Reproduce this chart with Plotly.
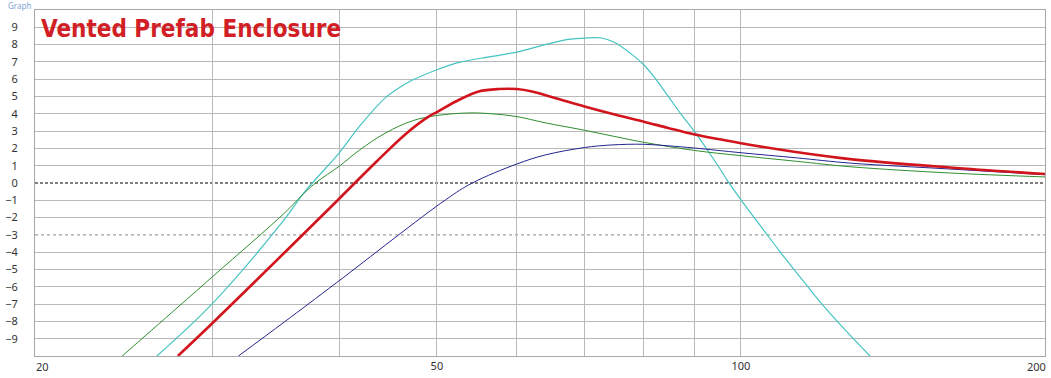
import numpy as np
import plotly.graph_objects as go

# ---- data (Hz, dB) ----
cyan_f = [26.4, 30.0, 35.3, 37.0, 40.0, 41.9, 44.5, 46.0, 47.3, 50.0, 52.6, 56.7, 60.0, 64.0, 67.5,
          70.0, 72.8, 75.0, 77.9, 80.0, 82.1, 84.7, 87.3, 90.0, 92.7, 95.5, 97.0, 100.0, 105.4,
          109.4, 116.3, 120.7, 126.4, 134.2]
cyan_db = [-10, -6.94, -2.12, -0.5, 1.73, 3.27, 4.95, 5.55, 5.95, 6.55, 6.97, 7.32, 7.57, 8.0, 8.3,
           8.38, 8.38, 8.12, 7.45, 6.88, 6.1, 5.02, 3.95, 2.95, 1.88, 0.75, 0.12, -0.97, -2.75,
           -4.0, -5.95, -7.1, -8.4, -10]

green_f = [24.4, 30.0, 35.3, 37.0, 38.0, 40.0, 41.9, 44.5, 47.3, 50.0, 53.8, 56.7, 60.0, 64.0,
           70.0, 80.0, 90.0, 100.0, 113.7, 128.3, 160.9, 200.0]
green_db = [-10, -5.4, -1.75, -0.55, 0.05, 0.96, 1.9, 2.9, 3.6, 3.9, 4.05, 4.0, 3.84, 3.48,
            3.05, 2.36, 1.88, 1.58, 1.25, 0.94, 0.58, 0.35]

blue_f = [31.8, 35.3, 39.8, 51.0, 54.2, 60.0, 64.0, 70.0, 74.5, 80.0, 84.7, 90.0, 100.0, 113.7,
          128.3, 160.9, 200.0]
blue_db = [-10, -8.04, -5.75, -0.97, 0.0, 1.1, 1.62, 2.05, 2.2, 2.24, 2.15, 2.02, 1.75, 1.45,
           1.15, 0.81, 0.48]

red_f = [27.7, 30.0, 35.5, 39.9, 43.5, 46.6, 49.1, 50.0, 52.6, 55.0, 57.6, 60.0, 62.1, 66.0,
         70.0, 74.5, 80.0, 84.7, 90.0, 100.0, 113.7, 128.3, 160.9, 200.0]
red_db = [-10, -8.08, -3.9, -0.98, 1.2, 2.85, 3.85, 4.1, 4.81, 5.29, 5.43, 5.43, 5.29, 4.85,
          4.42, 4.0, 3.56, 3.18, 2.8, 2.3, 1.78, 1.38, 0.9, 0.52]

x_grid = [30, 40, 50, 60, 70, 80, 90, 100]
x_grid_text = ["", "", "50", "", "", "", "", "100"]
x_edge_labels = [20, 200]
y_ticks = list(range(-9, 10))
y_special = [0, -3]
x_range = [20, 200]
y_range = [-10, 10]
title_text = "Vented Prefab Enclosure"

fig = go.Figure()
# invisible carrier so the grid-only overlay axis is drawn
fig.add_trace(go.Scatter(x=[x_range[0]], y=[y_range[0]], yaxis="y2", mode="markers",
                         marker=dict(opacity=0), hoverinfo="skip", showlegend=False))
series = [
    (cyan_f, cyan_db, "#45c3c3", 1.2),
    (green_f, green_db, "#2f8f2f", 1.0),
    (blue_f, blue_db, "#24248f", 1.0),
    (red_f, red_db, "#d2141c", 2.6),
]
for f, db, col, w in series:
    fig.add_trace(go.Scatter(x=f, y=db, mode="lines",
                             line=dict(color=col, width=w, shape="spline", smoothing=1.0),
                             hoverinfo="skip", showlegend=False))

grid_col = "#b9b9b9"
fig.update_layout(
    width=1051, height=378,
    margin=dict(l=30, r=5, t=10, b=22),
    paper_bgcolor="white", plot_bgcolor="white",
    font=dict(family="Noto Sans", size=11, color="#333333"),
    xaxis=dict(type="log", range=list(np.log10(x_range)), tickvals=x_grid, ticktext=x_grid_text,
               showgrid=True, gridcolor=grid_col, gridwidth=1, zeroline=False,
               showline=True, linecolor="#a8a8a8", mirror=True, ticks="",
               tickfont=dict(size=11, color="#333333")),
    yaxis=dict(range=y_range, tickvals=y_ticks, showgrid=False, zeroline=False,
               showline=True, linecolor="#a8a8a8", mirror=True, ticks="",
               ticklabelstandoff=14, tickfont=dict(size=11, color="#333333")),
    yaxis2=dict(range=y_range, overlaying="y", anchor="x",
                tickvals=[v for v in y_ticks if v not in y_special],
                showticklabels=False, showgrid=True, gridcolor=grid_col, gridwidth=1,
                zeroline=False, showline=False, ticks=""),
)

# special reference lines
fig.add_hline(y=y_special[0], line=dict(color="black", width=1, dash="3px,2px"), layer="below")
fig.add_hline(y=y_special[1], line=dict(color="#8a8a8a", width=1, dash="3px,3px"), layer="below")

# edge tick labels
fig.add_annotation(x=np.log10(x_edge_labels[0]), y=0, xref="x", yref="paper", text=str(x_edge_labels[0]),
                   showarrow=False, xanchor="left", yanchor="top", xshift=-1, yshift=-1,
                   font=dict(size=11, color="#333333"))
fig.add_annotation(x=np.log10(x_edge_labels[1]), y=0, xref="x", yref="paper", text=str(x_edge_labels[1]),
                   showarrow=False, xanchor="right", yanchor="top", xshift=3, yshift=-1,
                   font=dict(size=11, color="#333333"))

# title
fig.add_annotation(x=0, y=0.945, xref="paper", yref="paper", text="<b>" + title_text + "</b>",
                   showarrow=False, xanchor="left", yanchor="middle", xshift=4,
                   font=dict(family="Liberation Sans Narrow, DejaVu Sans Condensed, DejaVu Sans, sans-serif",
                             size=24, color="#d21f26"))
# faint header label
fig.add_annotation(x=0, y=1.0, xref="paper", yref="paper", text="Graph",
                   showarrow=False, xanchor="left", yanchor="bottom", xshift=-29, yshift=-3,
                   font=dict(size=8, color="#7fa6d6"))

fig.write_html("out.html")
